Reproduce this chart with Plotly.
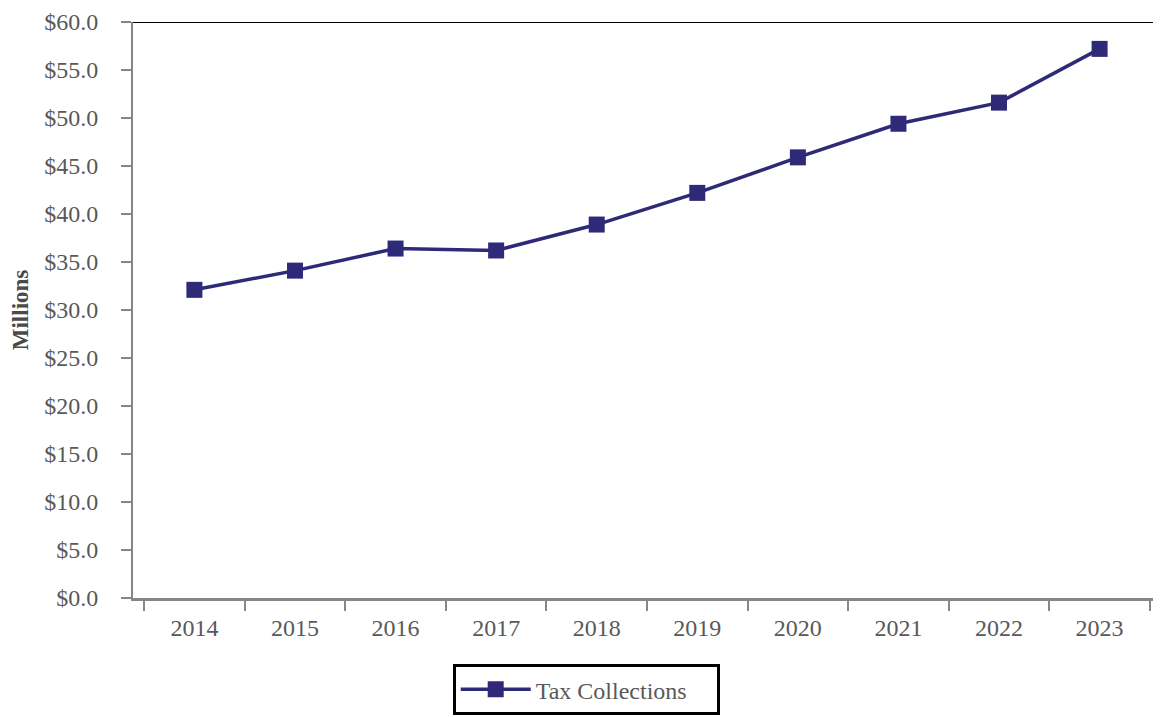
import plotly.graph_objects as go

years = ["2014", "2015", "2016", "2017", "2018", "2019", "2020", "2021", "2022", "2023"]
tax_collections = [32.1, 34.1, 36.4, 36.2, 38.9, 42.2, 45.9, 49.4, 51.6, 57.2]
y_ticks = [0, 5, 10, 15, 20, 25, 30, 35, 40, 45, 50, 55, 60]
y_tick_labels = ["$0.0", "$5.0", "$10.0", "$15.0", "$20.0", "$25.0", "$30.0",
                 "$35.0", "$40.0", "$45.0", "$50.0", "$55.0", "$60.0"]

navy = "#2E2A78"
gray = "#868686"
font_fam = "Liberation Serif, Times New Roman, serif"

fig = go.Figure()
fig.add_trace(go.Scatter(
    x=years, y=tax_collections, mode="lines+markers", name="Tax Collections",
    line=dict(color=navy, width=3.5),
    marker=dict(symbol="square", size=16, color=navy),
))

fig.add_shape(type="line", xref="paper", yref="y", x0=0, x1=1, y0=60, y1=60,
              line=dict(color="black", width=2))

fig.update_layout(
    width=1153, height=709,
    margin=dict(l=125, r=0, t=14, b=119),
    plot_bgcolor="white", paper_bgcolor="white",
    font=dict(family=font_fam, size=24, color="#595959"),
    showlegend=True,
    legend=dict(
        orientation="h", x=0.311, xanchor="left", y=-0.115, yanchor="top",
        bordercolor="black", borderwidth=3, bgcolor="white",
        font=dict(family=font_fam, size=24, color="#595959"),
        itemwidth=70, entrywidth=176,
    ),
    xaxis=dict(
        type="category", tickson="boundaries", ticks="outside", ticklen=10,
        tickwidth=2, tickcolor=gray, showline=True, linecolor=gray, linewidth=2.5,
        showgrid=False, zeroline=False, automargin=False, ticklabelstandoff=6,
        tickfont=dict(family=font_fam, size=24, color="#595959"),
    ),
    yaxis=dict(
        range=[0, 60], tickvals=y_ticks, ticktext=y_tick_labels,
        ticks="outside", ticklen=10, tickwidth=2, tickcolor=gray,
        showline=True, linecolor=gray, linewidth=2, showgrid=False, zeroline=False,
        automargin=False, ticklabeloverflow="allow", ticklabelstandoff=18,
        tickfont=dict(family=font_fam, size=24, color="#595959"),
        title=dict(text="<b>Millions</b>", font=dict(family=font_fam, size=23, color="#4a4a4a"), standoff=10),
    ),
)

fig.write_html("out.html")
